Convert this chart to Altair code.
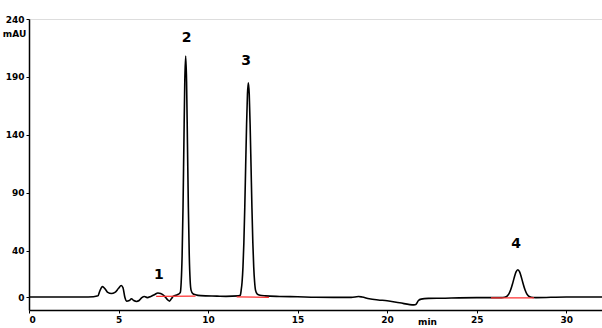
import altair as alt
import pandas as pd

# Chromatogram trace (time in min, signal in mAU)
time_min = [0, 3.0, 3.6, 3.85, 3.95, 4.1, 4.25, 4.4, 4.6, 4.8, 5.0, 5.15, 5.25, 5.35, 5.45,
            5.6, 5.72, 5.85, 6.0, 6.15, 6.3, 6.45, 6.6, 6.8, 7.0, 7.2, 7.35, 7.55, 7.75,
            7.85, 7.95, 8.05, 8.2, 8.35, 8.45, 8.5, 8.55, 8.6, 8.65, 8.7, 8.75, 8.8,
            8.85, 8.9, 8.95, 9.0, 9.05, 9.15, 9.3, 9.6, 10.5, 11.0, 11.7, 11.8, 11.85,
            11.9, 11.95, 12.0, 12.05, 12.1, 12.15, 12.2, 12.25, 12.3, 12.35, 12.4, 12.45,
            12.5, 12.55, 12.6, 12.65, 12.75, 12.9, 13.2, 14.0, 15.0, 16.0, 17.0,
            18.0, 18.4, 18.6, 19.0, 19.5, 20.0, 20.7, 21.5, 21.6, 21.75, 21.9, 22.3, 23.0,
            25.0, 26.4, 26.55, 26.7, 26.8, 26.9, 27.0, 27.1, 27.2, 27.3, 27.4, 27.5,
            27.6, 27.7, 27.8, 27.9, 28.05, 28.3, 30.0, 32.0]
signal_mau = [0, 0, 0.3, 1, 5, 9, 7, 4, 3, 4, 7.5, 10, 8, 0, -3.5,
              -3, -1.5, -3, -3.8, -3, -0.5, 0.5, -0.5, 0.5, 2, 3.5, 3, 1, -2.5,
              -3.5, -1.5, 0.5, 1.5, 2.5, 4, 13, 35, 76, 132, 186, 208, 186,
              132, 77, 36, 14, 6, 3, 2, 1.2, 0.8, 0.6, 1, 1.5, 6,
              13, 26, 47, 77, 113, 148, 175, 185, 175, 148, 113, 77,
              47, 26, 13, 6, 2.5, 1.5, 1, 0.5, 0.2, -0.2, -0.3,
              -0.3, 0.4, 0, -1.5, -2.5, -3.2, -5, -6.8, -6.5, -3, -1.8, -1.2, -1.0,
              -0.5, -0.5, -0.2, 0.8, 2.7, 6.2, 11.2, 16.9, 21.7, 23.5, 21.7, 16.9,
              11.2, 6.2, 2.7, 0.8, -0.2, -0.5, 0, 0]

# Integration baselines (red)
base_start = [7.1, 11.6, 25.8]
base_end = [9.3, 13.4, 28.2]
base_start_level = [0.5, 0.2, -0.8]
base_end_level = [0.8, -0.3, -0.8]

# Peak labels
peak_names = ["1", "2", "3", "4"]
peak_t = [7.25, 8.8, 12.12, 27.2]
peak_y = [19, 224, 204, 46]

trace = pd.DataFrame({"t": time_min, "s": signal_mau})
base = pd.DataFrame({"t": base_start, "t2": base_end,
                     "s": base_start_level, "s2": base_end_level})
peaks = pd.DataFrame({"name": peak_names, "t": peak_t, "s": peak_y})

FONT = "DejaVu Sans"

xscale = alt.Scale(domain=[0, 32], nice=False, zero=False)
yscale = alt.Scale(domain=[-11.2, 240], nice=False, zero=False)

xaxis = alt.Axis(values=[0, 5, 10, 15, 20, 25, 30], format="d", grid=False,
                 domainColor="black", domainWidth=1.5, tickColor="black",
                 tickSize=3, labelPadding=2, labelFont=FONT, labelFontSize=9,
                 labelFontWeight="bold", labelColor="black",
                 title="min", titleFont=FONT, titleFontSize=9, titleFontWeight="bold",
                 titleColor="black", titleX=398, titleY=11, titleAlign="center",
                 titleBaseline="middle")
yaxis = alt.Axis(values=[0, 40, 90, 140, 190, 240], format="d", grid=False,
                 domainColor="black", domainWidth=1.5, tickColor="black",
                 tickSize=3, labelPadding=2, labelFont=FONT, labelFontSize=9,
                 labelFontWeight="bold", labelColor="black",
                 title="mAU", titleFont=FONT, titleFontSize=9, titleFontWeight="bold",
                 titleColor="black", titleAngle=0, titleX=-15, titleY=14,
                 titleAlign="center", titleBaseline="middle")

line = alt.Chart(trace).mark_line(color="black", strokeWidth=1.6,
                                  interpolate="monotone").encode(
    x=alt.X("t:Q", scale=xscale, axis=xaxis),
    y=alt.Y("s:Q", scale=yscale, axis=yaxis),
)

red = alt.Chart(base).mark_rule(color="#ff3030", strokeWidth=1.2).encode(
    x=alt.X("t:Q", scale=xscale), x2="t2:Q",
    y=alt.Y("s:Q", scale=yscale), y2="s2:Q",
)

labels = alt.Chart(peaks).mark_text(font=FONT, fontSize=14, fontWeight="bold",
                                     color="black", baseline="middle").encode(
    x=alt.X("t:Q", scale=xscale),
    y=alt.Y("s:Q", scale=yscale),
    text="name:N",
)

chart = alt.layer(line, red, labels).properties(
    width=573, height=291,
    autosize=alt.AutoSizeParams(type="none"),
    padding={"left": 29, "top": 19, "right": 0, "bottom": 18},
).configure_view(stroke=None).configure(background="white")

chart.save("out.html", embed_options={"renderer": "svg", "actions": False})
